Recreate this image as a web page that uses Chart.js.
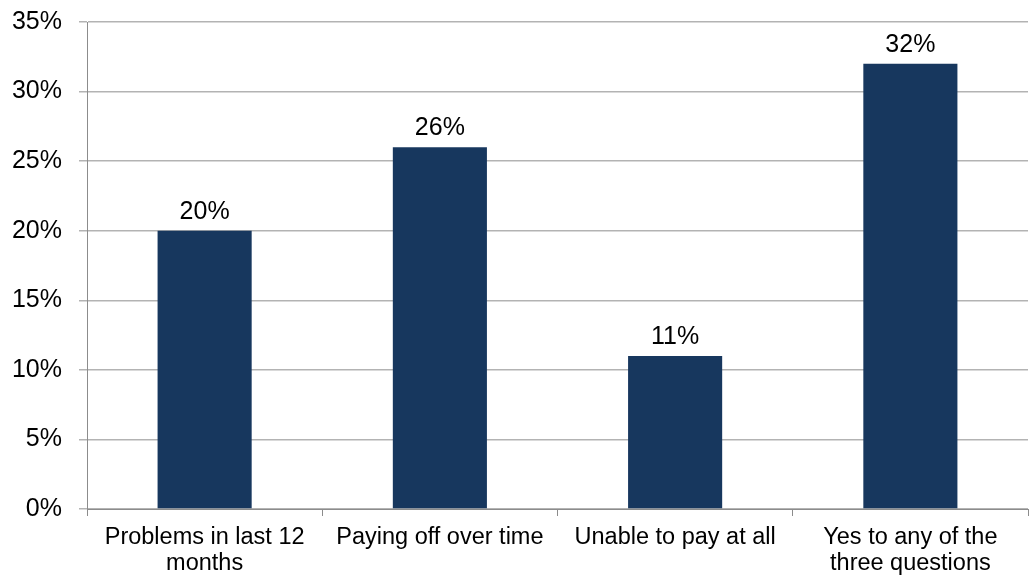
<!DOCTYPE html>
<html>
<head>
<meta charset="utf-8">
<script src="https://cdn.jsdelivr.net/npm/chart.js@4.4.1/dist/chart.umd.min.js"></script>
<style>
  html, body { margin: 0; padding: 0; background: #fff; }
  #wrap { width: 1034px; height: 575px; position: relative; }
</style>
</head>
<body>
<div id="wrap"><canvas id="chart"></canvas></div>
<script>
const categories = [
  ['Problems in last 12', 'months'],
  'Paying off over time',
  'Unable to pay at all',
  ['Yes to any of the', 'three questions']
];
const values = [20, 26, 11, 32];
const yTicks = [0, 5, 10, 15, 20, 25, 30, 35];

const COLORS = {
  bar: '#17375E',
  grid: '#B3B3B3',
  axis: '#8C8C8C',
  text: '#000000'
};

const FONT = "'Liberation Sans', Arial, sans-serif";

// draws the value above each bar
const valueLabels = {
  id: 'valueLabels',
  afterDatasetsDraw(chart) {
    const ctx = chart.ctx;
    const meta = chart.getDatasetMeta(0);
    ctx.save();
    ctx.font = '25px ' + FONT;
    ctx.fillStyle = COLORS.text;
    ctx.textAlign = 'center';
    ctx.textBaseline = 'alphabetic';
    meta.data.forEach((bar, i) => {
      ctx.fillText(values[i] + '%', bar.x, bar.y - 12);
    });
    ctx.restore();
  }
};

new Chart(document.getElementById('chart').getContext('2d'), {
  type: 'bar',
  data: {
    labels: categories,
    datasets: [{
      data: values,
      backgroundColor: COLORS.bar,
      borderWidth: 0,
      categoryPercentage: 1,
      barPercentage: 0.4
    }]
  },
  options: {
    responsive: true,
    maintainAspectRatio: false,
    animation: false,
    devicePixelRatio: 1,
    layout: { padding: { top: 22, right: 6, left: 0, bottom: 0 } },
    plugins: { legend: { display: false }, tooltip: { enabled: false } },
    scales: {
      x: {
        offset: true,
        grid: {
          offset: true,
          drawOnChartArea: false,
          drawTicks: true,
          tickLength: 7,
          color: COLORS.axis
        },
        border: { display: true, color: COLORS.axis, width: 1 },
        ticks: {
          color: COLORS.text,
          font: { family: FONT, size: 23.5, lineHeight: 1.1 },
          maxRotation: 0,
          autoSkip: false,
          padding: 9
        },
        afterFit(scale) { scale.height = 66; }
      },
      y: {
        min: 0,
        max: 35,
        afterBuildTicks(scale) { scale.ticks = yTicks.map(v => ({ value: v })); },
        grid: {
          color: COLORS.grid,
          lineWidth: 1.5,
          drawTicks: true,
          tickLength: 8,
          tickColor: COLORS.grid
        },
        border: { display: true, color: COLORS.axis, width: 1 },
        ticks: {
          color: COLORS.text,
          font: { family: FONT, size: 25 },
          padding: 17,
          callback: v => v + '%'
        },
        afterFit(scale) {
          scale.width = 87;
          scale.paddingTop = 0;
          scale.paddingBottom = 0;
        }
      }
    }
  },
  plugins: [valueLabels]
});
</script>
</body>
</html>
